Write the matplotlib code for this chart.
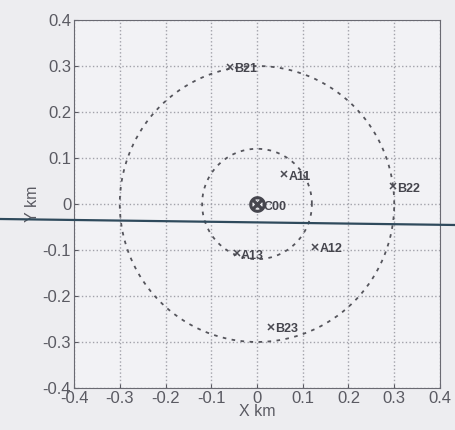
import matplotlib.pyplot as plt
import numpy as np
from matplotlib.lines import Line2D

# station positions (km)
names = ["A11", "A12", "A13", "B21", "B22", "B23"]
xs = [0.06, 0.127, -0.044, -0.059, 0.298, 0.03]
ys = [0.065, -0.093, -0.107, 0.298, 0.039, -0.267]
center_name = "C00"
center_xy = (0.0, 0.0)
radii = [0.12, 0.3]
ticks = [-0.4, -0.3, -0.2, -0.1, 0, 0.1, 0.2, 0.3, 0.4]
tick_labels = ['-0.4', '-0.3', '-0.2', '-0.1', '0', '0.1', '0.2', '0.3', '0.4']

plt.rcParams['font.family'] = ['Liberation Sans', 'DejaVu Sans']

fig = plt.figure(figsize=(4.56, 4.3), dpi=100, facecolor='#ededf0')
ax = fig.add_axes([0.1623, 0.0977, 0.8026, 0.8558])
ax.set_facecolor('#f2f2f5')

# coverage circles
t = np.linspace(0, 2 * np.pi, 400)
for r in radii:
    ax.plot(center_xy[0] + r * np.cos(t), center_xy[1] + r * np.sin(t),
            linestyle=(0, (2, 3)), color='#55555c', linewidth=1.3)

# stations
ax.plot(xs, ys, marker='x', linestyle='', color='#4a4a52', markersize=5, markeredgewidth=1.1)
for n, x, y in zip(names, xs, ys):
    ax.annotate(n, (x, y), xytext=(3, -4), textcoords='offset points',
                fontsize=9, fontweight='bold', color='#45454d')

ax.plot([center_xy[0]], [center_xy[1]], marker=r'$\otimes$', color='#45454d',
        markersize=11, linestyle='')
ax.annotate(center_name, center_xy, xytext=(5, -4), textcoords='offset points',
            fontsize=9, fontweight='bold', color='#45454d')

ax.set_xlim(-0.4, 0.4)
ax.set_ylim(-0.4, 0.4)
ax.set_xticks(ticks)
ax.set_yticks(ticks)
ax.set_xticklabels(tick_labels)
ax.set_yticklabels(tick_labels)
ax.grid(True, linestyle=':', color='#a2a2aa', linewidth=1.0)
ax.tick_params(labelsize=12, colors='#5a5a62', length=3, direction='in', pad=2)
for s in ax.spines.values():
    s.set_color('#6a6a72')
ax.set_xlabel('X km', fontsize=11.5, color='#5a5a62', labelpad=-1)
ax.set_ylabel('Y km', fontsize=11.5, color='#5a5a62', labelpad=2)

# blue line across the scanned page
fig.add_artist(Line2D([0, 1], [1 - 219 / 430, 1 - 225 / 430], transform=fig.transFigure,
                      color='#2f4a5c', linewidth=1.6))

fig.savefig('out.png', dpi=100, facecolor=fig.get_facecolor())
